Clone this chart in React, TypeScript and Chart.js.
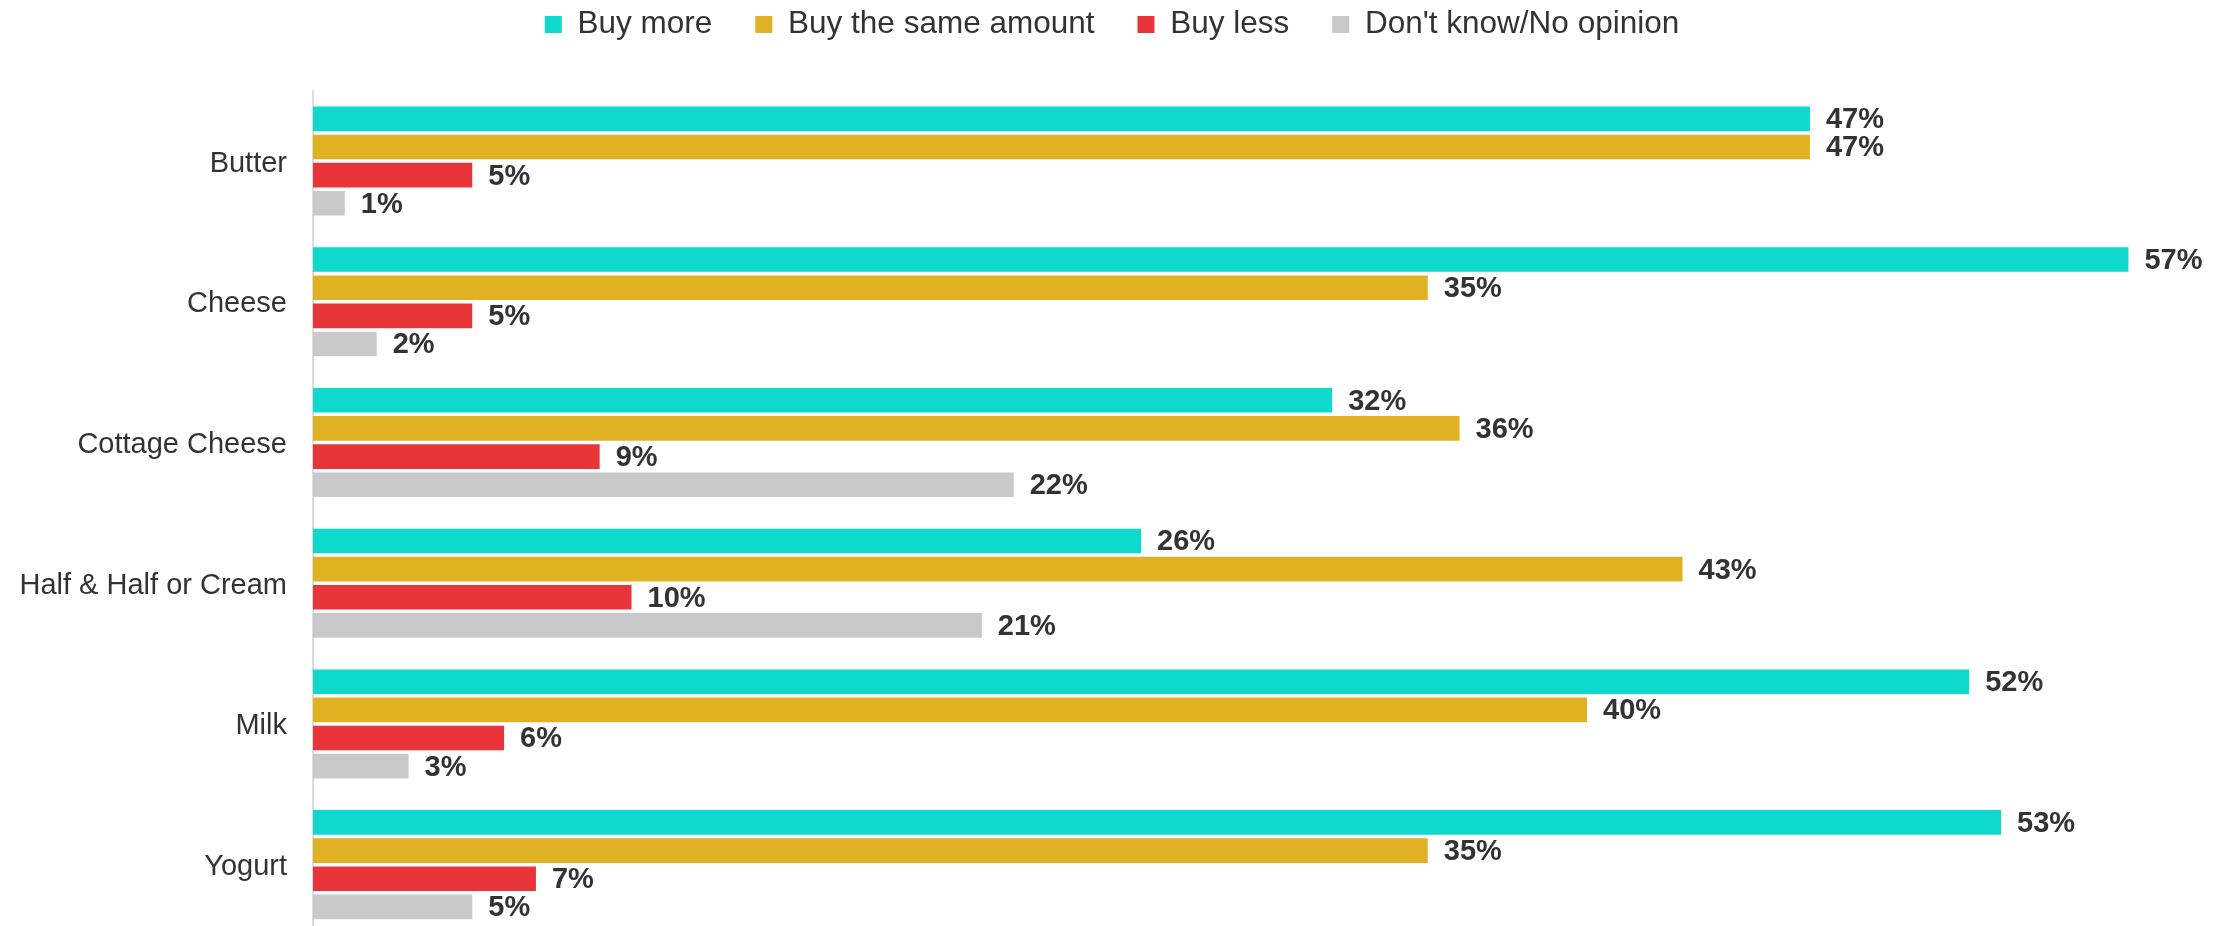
import React, { useEffect, useRef } from 'react';
import { Chart, registerables } from 'chart.js';

Chart.register(...registerables);

const categories = ['Butter', 'Cheese', 'Cottage Cheese', 'Half & Half or Cream', 'Milk', 'Yogurt'];
const seriesNames = ['Buy more', 'Buy the same amount', 'Buy less', "Don't know/No opinion"];
const buyMore = [47, 57, 32, 26, 52, 53];
const buySame = [47, 35, 36, 43, 40, 35];
const buyLess = [5, 5, 9, 10, 6, 7];
const dontKnow = [1, 2, 22, 21, 3, 5];
const seriesColors = ['#0FD8CD', '#E1B124', '#E9343A', '#C9C9C9'];

const FONT = '"Liberation Sans", Arial, Helvetica, sans-serif';
const LEGEND_FONT = 31.5;
const LEGEND_PAD = 43;
const LEGEND_CENTER_Y = 24.5;
const CHART_TOP = 90.7;
const LAYOUT_TOP = LEGEND_CENTER_Y - LEGEND_PAD - LEGEND_FONT / 2;

const legendSpacer = {
  id: 'legendSpacer',
  beforeLayout(chart: any) {
    const lg = chart.legend;
    if (lg && !lg.__patched) {
      const orig = lg.fit;
      lg.fit = function () {
        orig.call(this);
        this.height = CHART_TOP - LAYOUT_TOP;
      };
      lg.__patched = true;
    }
  },
};

const valueLabels = {
  id: 'valueLabels',
  afterDatasetsDraw(chart: any) {
    const ctx = chart.ctx;
    ctx.save();
    ctx.font = `bold 29px ${FONT}`;
    ctx.fillStyle = '#333333';
    ctx.textBaseline = 'middle';
    ctx.textAlign = 'left';
    chart.data.datasets.forEach((ds: any, i: number) => {
      const meta = chart.getDatasetMeta(i);
      meta.data.forEach((bar: any, j: number) => {
        ctx.fillText(ds.data[j] + '%', bar.x + 16, bar.y + 1.5);
      });
    });
    ctx.restore();
  },
};

export default function App() {
  const ref = useRef<HTMLCanvasElement>(null);
  useEffect(() => {
    document.body.style.margin = '0';
    document.body.style.overflow = 'hidden';
    const allSeries = [buyMore, buySame, buyLess, dontKnow];
    const chart = new Chart(ref.current as HTMLCanvasElement, {
      type: 'bar',
      data: {
        labels: categories,
        datasets: allSeries.map((d, i) => ({
          label: seriesNames[i],
          data: d,
          backgroundColor: seriesColors[i],
          borderWidth: 0,
          barPercentage: 0.875,
          categoryPercentage: 0.8,
        })),
      },
      options: {
        indexAxis: 'y',
        responsive: true,
        maintainAspectRatio: false,
        animation: false,
        layout: { padding: { top: LAYOUT_TOP, left: 0, right: 7, bottom: 0 } },
        plugins: {
          legend: {
            position: 'top',
            align: 'center',
            labels: {
              boxWidth: 17,
              boxHeight: 17,
              padding: LEGEND_PAD,
              color: '#333333',
              font: { family: FONT, size: LEGEND_FONT },
            },
          },
          tooltip: { enabled: false },
        },
        scales: {
          x: { display: false, min: 0, max: 60 },
          y: {
            grid: { display: false, drawTicks: false },
            border: { display: true, color: '#dcdcdc', width: 2 },
            ticks: { color: '#333333', font: { family: FONT, size: 29 }, padding: 26, labelOffset: 2.5 },
            afterFit: (s: any) => {
              s.width = 313;
              s.paddingTop = 0;
              s.paddingBottom = 0;
            },
          },
        },
      } as any,
      plugins: [legendSpacer, valueLabels],
    });
    return () => chart.destroy();
  }, []);
  return (
    <div style={{ position: 'relative', width: 2231, height: 935 }}>
      <canvas ref={ref} />
    </div>
  );
}
